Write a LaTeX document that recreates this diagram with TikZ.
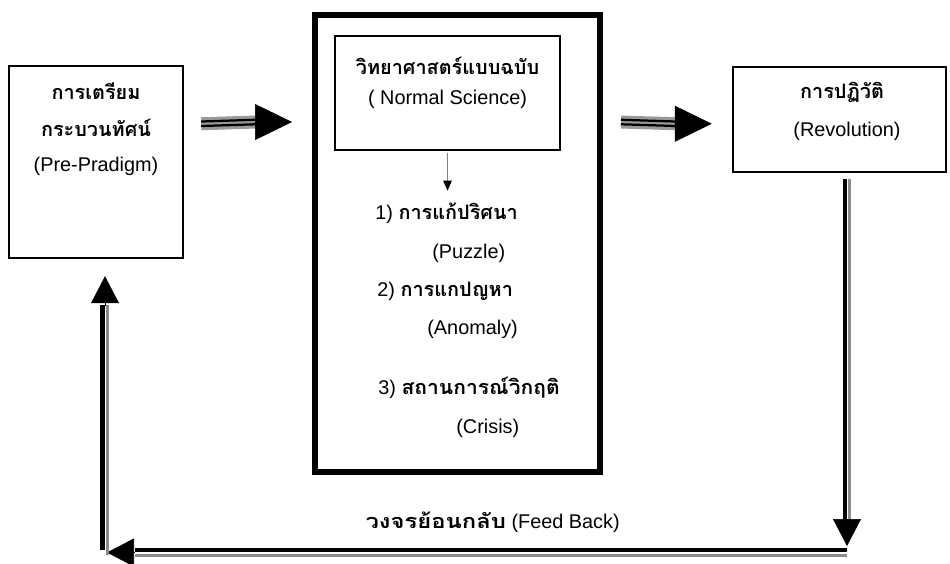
\documentclass[tikz,border=0pt]{standalone}
\usepackage{fontspec}
\setmainfont{Liberation Sans}
\newfontfamily\thaifont[Script=Thai]{Loma}
\usepackage{tikz}
\usetikzlibrary{arrows.meta}
\usetikzlibrary{positioning}

\tikzset{
  box/.style={draw, line width=1.4pt, inner sep=0pt},
  txt/.style={inner sep=0pt, anchor=base, font=\fontsize{11.3}{13}\selectfont},
  itemtxt/.style={txt, anchor=base west},
  bighead/.style={line width=0.3pt, -{Triangle[length=0.74cm,width=0.72cm]}},
  fbhead/.style={line width=0.3pt, -{Triangle[length=0.54cm,width=0.56cm]}},
  bandshaft/.style={line width=0.26cm, black!40},
  bandline/.style={line width=0.045cm},
  fbline/.style={line width=0.09cm},
  fbshade/.style={line width=0.06cm, black!45},
}
\newcommand{\thtxt}[1]{{\thaifont\bfseries #1}}

\begin{document}
\begin{tikzpicture}
  \useasboundingbox (0,0) rectangle (19,-11.26);

  \node (prep) [box, minimum width=3.48cm, minimum height=3.84cm] at (1.92,-3.24) {};
  \node (frame) [box, line width=3.4pt, minimum width=5.7cm, minimum height=9.14cm] at (9.15,-4.87) {};
  \node (normal) [box, line width=0.8pt, minimum width=4.5cm, minimum height=2.28cm] at (8.95,-1.86) {};
  \node (rev) [box, minimum width=4.26cm, minimum height=2.1cm] at (16.79,-2.39) {};

  \node (prepa) [txt] at ([yshift=-0.7cm]prep.north) {\thtxt{การเตรียม}};
  \node (prepb) [txt] at ([yshift=-1.44cm]prep.north) {\thtxt{กระบวนทัศน์}};
  \node (prepc) [txt] at ([yshift=-2.14cm]prep.north) {(Pre-Pradigm)};

  \node (normala) [txt] at ([yshift=-0.78cm]normal.north) {\thtxt{วิทยาศาสตร์แบบฉบับ}};
  \node (normalb) [txt] at ([yshift=-1.38cm]normal.north) {( Normal Science)};

  \node (reva) [txt] at ([xshift=0.05cm,yshift=-0.66cm]rev.north) {\thtxt{การปฏิวัติ}};
  \node (revb) [txt] at ([xshift=0.15cm,yshift=-1.42cm]rev.north) {(Revolution)};

  \node (puzzle) [itemtxt] at (7.5,-4.38) {1) \thtxt{การแก้ปริศนา}};
  \node (puzzleen) [itemtxt] at (8.64,-5.16) {(Puzzle)};
  \node (anomaly) [itemtxt] at (7.54,-5.92) {2) \thtxt{การแกปญหา}};
  \node (anomalyen) [itemtxt] at (8.54,-6.68) {(Anomaly)};
  \node (crisis) [itemtxt] at (7.56,-7.88) {3) \thtxt{\addfontfeature{FakeStretch=1.06}สถานการณ์วิกฤติ}};
  \node (crisisen) [itemtxt] at (9.12,-8.66) {(Crisis)};

  \node (feedback) [txt, anchor=base east] at (12.4,-10.56)
    {\thtxt{\addfontfeature{FakeStretch=1.2}วงจรย้อนกลับ} (Feed Back)};

  % normal science -> list
  \path (normal.south) +(0,-0.8) coordinate (puzzlei);
  \draw[black!50, line width=0.5pt, -{Triangle[length=0.2cm,width=0.17cm,color=black]}]
    ([yshift=-0.04cm]normal.south) -- (puzzlei);

  % pre-paradigm -> normal science
  \path (prep.north east) +(0.34,-1.18) coordinate (prepo);
  \path (frame.north west) +(-0.4,-2.2) coordinate (framei);
  \draw[bandshaft] (prepo) -- ([xshift=-0.72cm]framei);
  \draw[bandline] ([yshift=0.045cm]prepo) -- ([xshift=-0.72cm,yshift=0.045cm]framei);
  \draw[bandline] ([yshift=-0.045cm]prepo) -- ([xshift=-0.72cm,yshift=-0.045cm]framei);
  \draw[bighead] ([xshift=-0.74cm]framei) -- (framei);

  % normal science -> revolution
  \path (frame.north east) +(0.36,-2.2) coordinate (frameo);
  \path (rev.north west) +(-0.4,-1.16) coordinate (revi);
  \draw[bandshaft] (frameo) -- ([xshift=-0.72cm]revi);
  \draw[bandline] ([yshift=0.045cm]frameo) -- ([xshift=-0.72cm,yshift=0.045cm]revi);
  \draw[bandline] ([yshift=-0.045cm]frameo) -- ([xshift=-0.72cm,yshift=-0.045cm]revi);
  \draw[bighead] ([xshift=-0.74cm]revi) -- (revi);

  % feed back loop
  \path (rev.south) +(0.15,-0.12) coordinate (revo);
  \path (prep.south) +(0.18,-0.34) coordinate (prepi);
  \coordinate (fbr) at (revo |- 0,-11.05);
  \coordinate (fbl) at (prepi |- fbr);
  \draw[fbline] ([xshift=-0.045cm]revo) -- ([xshift=-0.045cm,yshift=0.64cm]fbr);
  \draw[fbshade] ([xshift=0.05cm]revo) -- ([xshift=0.05cm,yshift=0.64cm]fbr);
  \draw[fbhead] ([yshift=0.67cm]fbr) -- ([yshift=0.13cm]fbr);
  \draw[fbline] ([yshift=0.05cm]fbr) -- ([xshift=0.6cm,yshift=0.05cm]fbl);
  \draw[fbshade] ([yshift=-0.05cm]fbr) -- ([xshift=0.6cm,yshift=-0.05cm]fbl);
  \draw[fbhead] ([xshift=0.58cm]fbl) -- ([xshift=0.04cm]fbl);
  \draw[fbline] ([xshift=-0.05cm,yshift=0.05cm]fbl) -- ([xshift=-0.05cm,yshift=-0.58cm]prepi);
  \draw[fbshade] ([xshift=0.05cm,yshift=-0.05cm]fbl) -- ([xshift=0.05cm,yshift=-0.58cm]prepi);
  \draw[fbhead] ([yshift=-0.6cm]prepi) -- (prepi);
\end{tikzpicture}
\end{document}
